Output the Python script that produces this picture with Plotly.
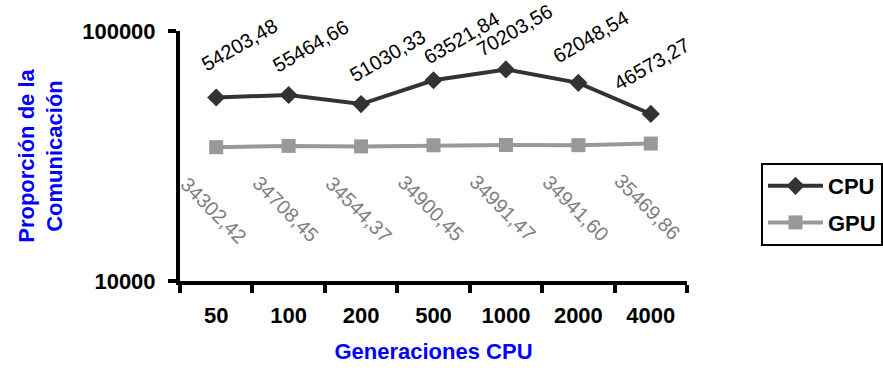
import plotly.graph_objects as go
import math

categories = ["50", "100", "200", "500", "1000", "2000", "4000"]
cpu_values = [54203.48, 55464.66, 51030.33, 63521.84, 70203.56, 62048.54, 46573.27]
gpu_values = [34302.42, 34708.45, 34544.37, 34900.45, 34991.47, 34941.60, 35469.86]
y_tick_values = [10000, 100000]
y_tick_labels = ["10000", "100000"]

# label offsets in pixels (styling of the data labels, relative to their points)
cpu_label_shift = [(23, 52), (22, 49), (26, 48), (28, 42), (9, 39), (12, 46), (1, 50)]
gpu_label_shift = (-3, -63)

FONT = "Arial, Liberation Sans, sans-serif"
W, H = 883, 372

def fmt(v):
    return f"{v:.2f}".replace(".", ",")

fig = go.Figure()
fig.add_trace(go.Scatter(
    x=categories, y=cpu_values, name="CPU", mode="lines+markers", legendgroup="cpu",
    line=dict(color="#333333", width=4),
    marker=dict(symbol="diamond", size=14, color="#333333"),
))
fig.add_trace(go.Scatter(
    x=categories, y=gpu_values, name="GPU", mode="lines+markers", legendgroup="gpu",
    line=dict(color="#999999", width=4),
    marker=dict(symbol="square", size=14, color="#999999"),
))

annotations = []
for i, v in enumerate(cpu_values):
    dx, dy = cpu_label_shift[i]
    annotations.append(dict(
        x=i, y=math.log10(v), xref="x", yref="y", text=fmt(v), showarrow=False,
        textangle=-30, xshift=dx, yshift=dy,
        font=dict(family=FONT, size=20, color="#000000"),
    ))
for i, v in enumerate(gpu_values):
    annotations.append(dict(
        x=i, y=math.log10(v), xref="x", yref="y", text=fmt(v), showarrow=False,
        textangle=45, xshift=gpu_label_shift[0], yshift=gpu_label_shift[1],
        font=dict(family=FONT, size=20, color="#808080"),
    ))

fig.update_layout(
    width=W, height=H,
    margin=dict(l=180, r=196, t=31, b=91, autoexpand=False),
    paper_bgcolor="white", plot_bgcolor="white",
    font=dict(family=FONT, color="#000000"),
    annotations=annotations,
    showlegend=True,
    legend=dict(
        xref="container", yref="container", x=761/W, y=1-163/H,
        xanchor="left", yanchor="top",
        bordercolor="#000000", borderwidth=2, bgcolor="white",
        font=dict(family=FONT, size=22, color="#000000", weight="bold"),
        traceorder="grouped", tracegroupgap=5, itemwidth=55,
    ),
)
fig.update_xaxes(
    type="category", tickson="boundaries", ticks="outside", ticklen=8, tickwidth=4,
    tickcolor="#000000", showline=True, linecolor="#000000", linewidth=4,
    showgrid=False, ticklabelstandoff=12, automargin=False,
    tickfont=dict(family=FONT, size=22, color="#000000", weight="bold"),
    title=dict(text="Generaciones CPU", standoff=17,
               font=dict(family=FONT, size=22, color="#0000FF", weight="bold")),
    range=[-0.5, 6.5],
)
fig.update_yaxes(
    type="log", range=[4, 5], tickvals=y_tick_values, ticktext=y_tick_labels,
    ticks="outside", ticklen=8, tickwidth=4, tickcolor="#000000",
    showline=True, linecolor="#000000", linewidth=4,
    showgrid=True, gridcolor="#e3e3e3", gridwidth=1, zeroline=False,
    ticklabelstandoff=8, automargin=False,
    tickfont=dict(family=FONT, size=22, color="#000000", weight="bold"),
    title=dict(text="Proporción de la<br>Comunicación", standoff=14,
               font=dict(family=FONT, size=22, color="#0000FF", weight="bold")),
)

fig.write_html("out.html", config={"displayModeBar": False},
               post_script="document.body.style.margin='0px';")
